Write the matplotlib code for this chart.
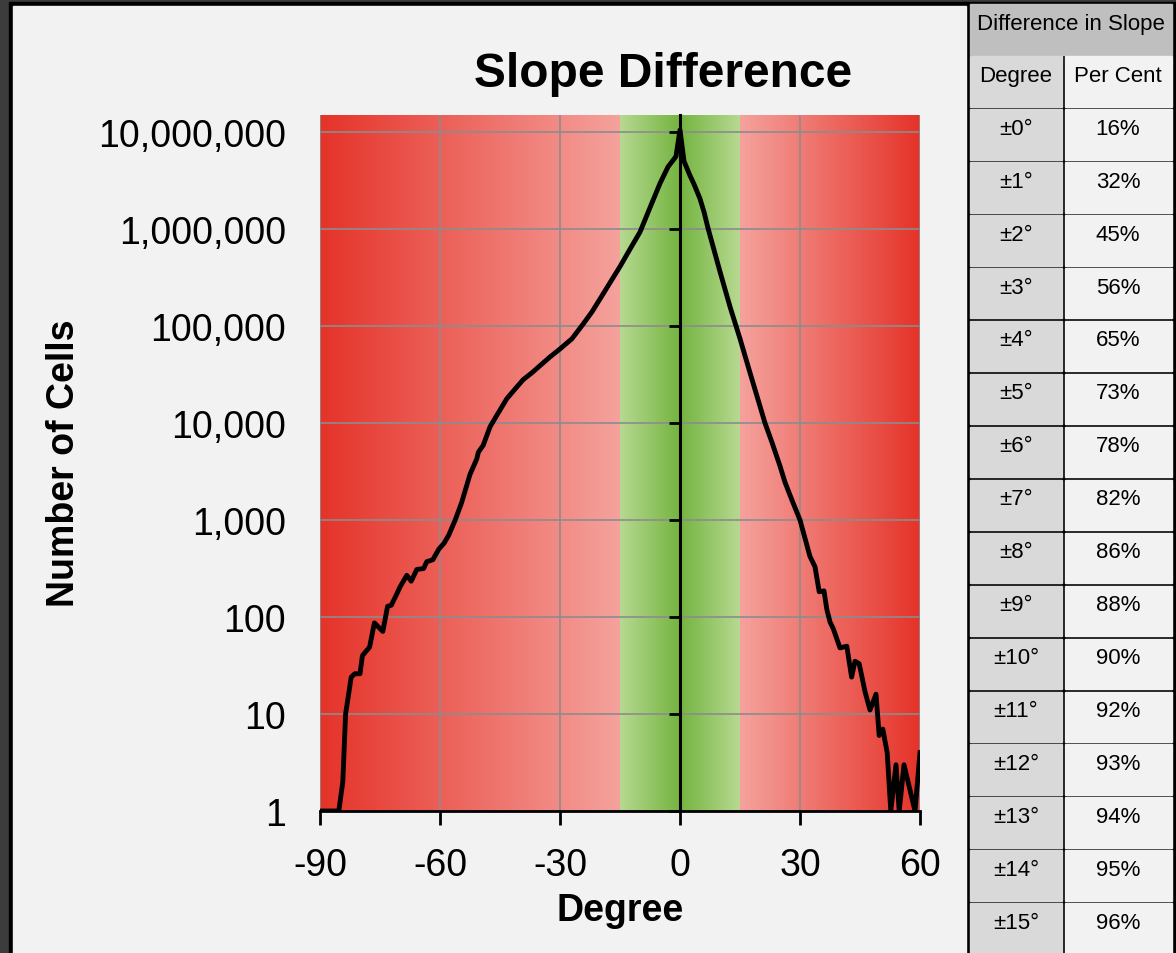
import numpy as np
import matplotlib.pyplot as plt
from matplotlib.patches import Rectangle
from matplotlib.ticker import NullLocator

plt.rcParams['font.family'] = ['Liberation Sans', 'DejaVu Sans']
plt.rcParams['axes.unicode_minus'] = False

# slope difference histogram
deg = [-90, -85.3, -84.3, -83.6, -82.2, -81.3, -80, -79.4, -77.6, -76.4,
       -74.3, -73.1, -72.2, -71, -70, -68.3, -67.2, -65.8, -64.1, -63.3,
       -61.8, -60.3, -59, -57.8, -56.2, -54.6, -52.5, -50.8, -50.4, -49.2,
       -47.5, -45.8, -43.3, -41, -39.2, -37, -35, -32.5, -30, -27,
       -24.2, -22, -20, -16.7, -15, -12.5, -10, -7.5, -5, -3,
       -1, 0, 1, 2.5, 3.5, 5, 6, 7, 10, 12.5, 15, 17.5,
       21.25, 23, 25, 26.25, 28, 30, 32.5, 33.75, 34.8, 36,
       36.7, 37.5, 38.3, 40, 41.7, 42.9, 43.75, 44.8, 46.25, 47.5,
       49, 49.8, 50.7, 51.8, 52.7, 54, 54.8, 56, 58.75, 60]
cells = [1, 1, 2, 10, 24, 26, 26, 40, 49, 87,
         71, 129, 132, 166, 204, 269, 234, 309, 316, 372,
         389, 501, 575, 700, 1000, 1510, 2950, 4270, 5010, 5890,
         9120, 12000, 17800, 23000, 28000, 33000, 39000, 48000, 58000, 74000,
         105000, 140000, 190000, 316000, 410000, 620000, 930000, 1660000, 2950000, 4370000,
         5600000, 10500000, 5000000, 3550000, 2900000, 2050000, 1500000, 1020000, 363000, 158000, 74000, 33000,
         10000, 6300, 3600, 2450, 1600, 1000, 420, 330, 182, 186,
         120, 89, 76, 48, 50, 24, 35, 33, 17, 11,
         16, 6, 7, 4, 1, 3, 1, 3, 1, 4]

x_ticks = [-90, -60, -30, 0, 30, 60]
y_ticks = [1, 10, 100, 1000, 10000, 100000, 1000000, 10000000]
y_labels = ['1', '10', '100', '1,000', '10,000', '100,000', '1,000,000', '10,000,000']

table_deg = ['±0°', '±1°', '±2°', '±3°', '±4°', '±5°', '±6°', '±7°',
             '±8°', '±9°', '±10°', '±11°', '±12°', '±13°', '±14°', '±15°']
table_pct = [16, 32, 45, 56, 65, 73, 78, 82, 86, 88, 90, 92, 93, 94, 95, 96]

W, H = 1176, 954
fig = plt.figure(figsize=(W / 100, H / 100), dpi=100, facecolor='#3c3c3c')

# background panels and table, drawn in pixel coordinates
bg = fig.add_axes([0, 0, 1, 1])
bg.set_xlim(0, W)
bg.set_ylim(H, 0)
bg.axis('off')
bg.add_patch(Rectangle((9, 3.3), W - 9, H, color='black'))
bg.add_patch(Rectangle((13, 7), 966 - 13, H, color='#f2f2f2'))

# red / green gradient behind the plot
red = np.array([229, 51, 41]) / 255
pink = np.array([245, 162, 157]) / 255
lgreen = np.array([183, 217, 145]) / 255
dgreen = np.array([116, 180, 64]) / 255


def band_color(d):
    if d < -15:
        return red + (d + 90) / 75 * (pink - red)
    if d < 0:
        return lgreen + (d + 15) / 15 * (dgreen - lgreen)
    if d < 15:
        return dgreen + d / 15 * (lgreen - dgreen)
    return pink + (d - 15) / 45 * (red - pink)


xs = np.linspace(-90, 60, 600)
img = np.array([[band_color(d) for d in xs]])
bg.imshow(img, extent=[320, 920, 812, 116], aspect='auto',
          interpolation='bilinear', zorder=2)

# table
row_pitch = (904.3 - 57.3) / 16
bg.add_patch(Rectangle((970, 4.7), 1172 - 970, 51, color='#bfbfbf'))
bg.text(1071, 4.7 + 25, 'Difference in Slope', ha='center', va='baseline', fontsize=16)
rows = [('Degree', 'Per Cent')] + [(d, f'{p}%') for d, p in zip(table_deg, table_pct)]
for i, (a, b) in enumerate(rows):
    top = 57.3 + i * row_pitch
    h = row_pitch - 2.5
    bg.add_patch(Rectangle((970, top), 1062 - 970, h, color='#d9d9d9'))
    bg.add_patch(Rectangle((1064.5, top), 1172 - 1064.5, h, color='#f2f2f2'))
    bg.text(1016, top + 24.5, a, ha='center', va='baseline', fontsize=16)
    bg.text(1118, top + 24.5, b, ha='center', va='baseline', fontsize=16)

# main chart
ax = fig.add_axes([320 / W, (H - 812) / H, 600 / W, (812 - 116) / H], zorder=1)
ax.set_facecolor('none')
ax.plot(deg, cells, color='black', lw=3.5, solid_joinstyle='round', zorder=3)
ax.set_yscale('log')
ax.set_xlim(-90, 60)
ax.set_ylim(1, 10 ** ((812 - 116) / 97))
ax.set_xticks(x_ticks)
ax.set_yticks(y_ticks)
ax.yaxis.set_minor_locator(NullLocator())
ax.grid(True, color='#8c8c8c', lw=1.2)
ax.set_axisbelow(True)

for s in ['top', 'right']:
    ax.spines[s].set_visible(False)
ax.spines['left'].set_position(('data', 0))
ax.spines['left'].set_linewidth(2.2)
ax.spines['left'].set_zorder(2.5)
ax.spines['bottom'].set_linewidth(2)
ax.tick_params(axis='x', direction='out', length=10, width=2, labelsize=27, pad=16)
ax.tick_params(axis='y', direction='out', length=8, width=2, labelleft=False)

for v, lab in zip(y_ticks, y_labels):
    ax.text(-0.057, v, lab, transform=ax.get_yaxis_transform(), ha='right',
            va='center_baseline', fontsize=27, clip_on=False)

fig.text(663 / W, 1 - 87 / H, 'Slope Difference', ha='center', va='baseline',
         fontsize=34.5, fontweight='bold')
fig.text(620 / W, 1 - 921 / H, 'Degree', ha='center', va='baseline',
         fontsize=27, fontweight='bold')
fig.text(64 / W, 1 - 463 / H, 'Number of Cells', ha='center', va='center',
         rotation=90, fontsize=27, fontweight='bold')

fig.savefig('out.png', dpi=100, facecolor=fig.get_facecolor())
